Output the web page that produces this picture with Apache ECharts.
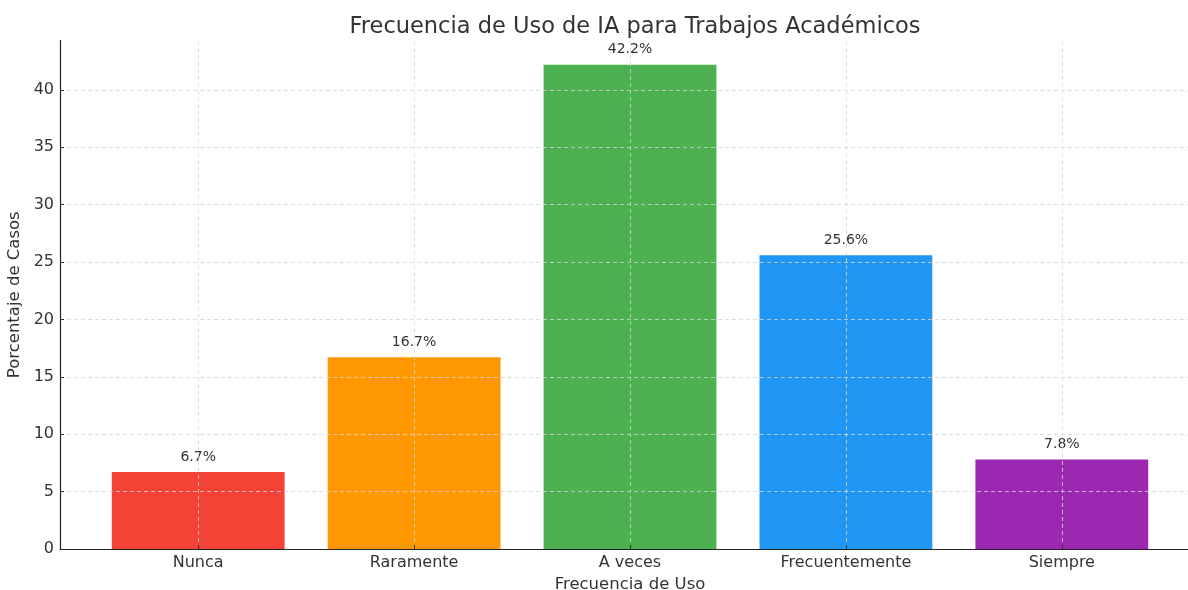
<!DOCTYPE html>
<html>
<head>
<meta charset="utf-8">
<script src="https://cdn.jsdelivr.net/npm/echarts@6/dist/echarts.min.js"></script>
<style>
  html, body { margin: 0; padding: 0; background: #fff; }
  #chart { width: 1188px; height: 590px; }
</style>
</head>
<body>
<div id="chart"></div>
<script>
const categories = ['Nunca', 'Raramente', 'A veces', 'Frecuentemente', 'Siempre'];
const percentages = [6.7, 16.7, 42.2, 25.6, 7.8];
const barColors = ['#F44336', '#FF9800', '#4CAF50', '#2196F3', '#9C27B0'];
const yTicks = [0, 5, 10, 15, 20, 25, 30, 35, 40];

const chart = echarts.init(document.getElementById('chart'));
const font = 'DejaVu Sans';
const positions = categories.map((c, i) => i);

const option = {
  animation: false,
  textStyle: {fontFamily: font},
  title: {
    text: 'Frecuencia de Uso de IA para Trabajos Académicos',
    left: 630, top: 11, textAlign: 'center',
    textStyle: {fontFamily: font, fontSize: 22.5, fontWeight: 'normal', color: '#333'}
  },
  // plot area runs a bit past the right edge, like the cropped original
  grid: {left: 60, top: 40.5, width: 1140, height: 508.5, containLabel: false, outerBoundsMode: 'none'},
  xAxis: {
    type: 'value',
    min: -0.64, max: 4.64,
    z: 5,
    name: 'Frecuencia de Uso',
    nameLocation: 'middle', nameGap: 25,
    nameTextStyle: {fontSize: 16.5, color: '#333'},
    axisLine: {show: true, onZero: false, lineStyle: {color: '#222', width: 1.2}},
    axisTick: {show: true, inside: true, length: 4, customValues: positions, lineStyle: {color: '#333'}},
    axisLabel: {
      customValues: positions, margin: 6, fontSize: 16, color: '#333',
      formatter: v => categories[Math.round(v)]
    },
    splitLine: {show: false}
  },
  yAxis: {
    type: 'value',
    min: 0, max: 44.31,
    z: 3,
    name: 'Porcentaje de Casos',
    nameLocation: 'middle', nameGap: 34,
    nameTextStyle: {fontSize: 16.5, color: '#333'},
    axisLine: {show: true, onZero: false, lineStyle: {color: '#222', width: 1.2}},
    axisTick: {show: true, inside: true, length: 4, customValues: yTicks, lineStyle: {color: '#333'}},
    axisLabel: {customValues: yTicks, fontSize: 16, color: '#333', margin: 6},
    splitLine: {show: true, lineStyle: {color: '#d6d6d6', type: [4, 3], width: 0.8}}
  },
  series: [{
    type: 'bar',
    barWidth: 172.8,
    data: percentages.map((v, i) => ({value: [i, v], itemStyle: {color: barColors[i]}})),
    label: {
      show: true, position: 'top', distance: 8,
      fontSize: 14, color: '#333',
      formatter: p => p.value[1].toFixed(1) + '%'
    },
    markLine: {
      silent: true, symbol: 'none', z: 3,
      label: {show: false},
      lineStyle: {color: '#d6d6d6', type: [4, 3], width: 0.8},
      data: positions.map(p => ({xAxis: p}))
    }
  }]
};

chart.setOption(option);
</script>
</body>
</html>
